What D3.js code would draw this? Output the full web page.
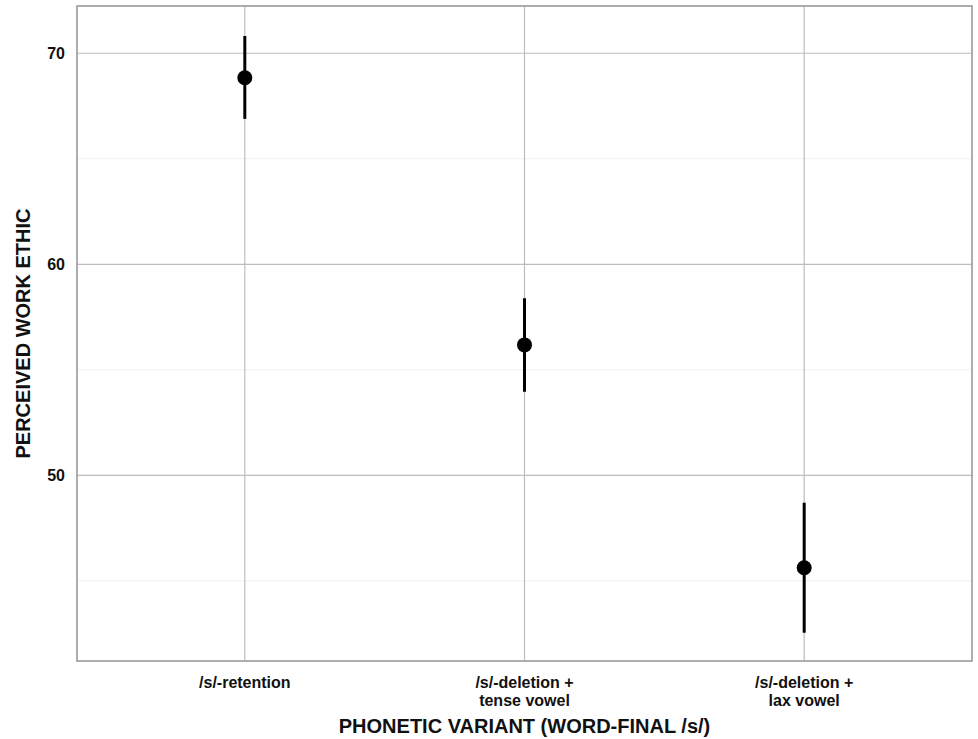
<!DOCTYPE html>
<html>
<head>
<meta charset="utf-8">
<script src="https://cdn.jsdelivr.net/npm/d3@7"></script>
<style>
  html, body { margin: 0; padding: 0; background: #fff; }
  svg { display: block; font-family: "Liberation Sans", Arial, sans-serif; }
</style>
</head>
<body>
<svg id="chart" width="978" height="739"></svg>
<script>
// Phonetic variants of word-final /s/ and their perceived work ethic (mean with interval)
const categories = ["/s/-retention", "/s/-deletion +\ntense vowel", "/s/-deletion +\nlax vowel"];
const means = [68.84, 56.18, 45.62];
const lower = [66.89, 53.96, 42.54];
const upper = [70.82, 58.39, 48.70];
const majorTicks = [50, 60, 70];
const minorTicks = [45, 55, 65];

const data = categories.map((c, i) => ({ cat: c, mean: means[i], lo: lower[i], hi: upper[i] }));

const svg = d3.select("#chart");
const margin = { left: 77, top: 6, right: 6, bottom: 78 };
const W = 978, H = 739;
const x0 = margin.left, x1 = W - margin.right, y0 = margin.top, y1 = H - margin.bottom;

const x = d3.scalePoint().domain(categories).range([x0, x1]).padding(0.6);
const y = d3.scaleLinear().domain([41.2, 72.24]).range([y1, y0]);

// minor horizontal grid
svg.append("g").selectAll("line").data(minorTicks).join("line")
  .attr("x1", x0).attr("x2", x1)
  .attr("y1", d => y(d)).attr("y2", d => y(d))
  .attr("stroke", "#ececec").attr("stroke-width", 0.8);

// major horizontal grid
svg.append("g").selectAll("line").data(majorTicks).join("line")
  .attr("x1", x0).attr("x2", x1)
  .attr("y1", d => y(d)).attr("y2", d => y(d))
  .attr("stroke", "#bdbdbd").attr("stroke-width", 1.2);

// vertical grid at categories
svg.append("g").selectAll("line").data(categories).join("line")
  .attr("x1", d => x(d)).attr("x2", d => x(d))
  .attr("y1", y0).attr("y2", y1)
  .attr("stroke", "#bdbdbd").attr("stroke-width", 1.2);

// panel border
svg.append("rect")
  .attr("x", x0).attr("y", y0).attr("width", x1 - x0).attr("height", y1 - y0)
  .attr("fill", "none").attr("stroke", "#9a9a9a").attr("stroke-width", 1.6);

// y axis labels
const yAxis = d3.axisLeft(y).tickValues(majorTicks).tickSize(0).tickPadding(12);
const gy = svg.append("g").attr("transform", `translate(${x0},0)`).call(yAxis);
gy.select(".domain").remove();
gy.selectAll("text").attr("font-size", 16).attr("font-weight", "bold").attr("fill", "#111")
  .style("font-family", "'Liberation Sans', Arial, sans-serif");

// x axis labels (two-line)
const xAxis = d3.axisBottom(x).tickSize(0).tickFormat("");
const gx = svg.append("g").attr("transform", `translate(0,${y1})`).call(xAxis);
gx.select(".domain").remove();
const xl = svg.append("g").selectAll("text").data(categories).join("text")
  .attr("x", d => x(d)).attr("y", 688)
  .attr("text-anchor", "middle").attr("font-size", 16).attr("font-weight", "bold").attr("fill", "#111");
xl.each(function(d) {
  const lines = d.split("\n");
  d3.select(this).selectAll("tspan").data(lines).join("tspan")
    .attr("x", x(d)).attr("dy", (l, i) => i === 0 ? 0 : 17.5).text(l => l);
});

// axis titles
svg.append("text")
  .attr("x", (x0 + x1) / 2).attr("y", 733)
  .attr("text-anchor", "middle").attr("font-size", 20).attr("font-weight", "bold").attr("fill", "#111")
  .text("PHONETIC VARIANT (WORD-FINAL /s/)");

svg.append("text")
  .attr("transform", `translate(30,${(y0 + y1) / 2}) rotate(-90)`)
  .attr("text-anchor", "middle").attr("font-size", 20).attr("font-weight", "bold").attr("fill", "#111")
  .text("PERCEIVED WORK ETHIC");

// error bars
svg.append("g").selectAll("line").data(data).join("line")
  .attr("x1", d => x(d.cat)).attr("x2", d => x(d.cat))
  .attr("y1", d => y(d.lo)).attr("y2", d => y(d.hi))
  .attr("stroke", "#000").attr("stroke-width", 3);

// points
svg.append("g").selectAll("circle").data(data).join("circle")
  .attr("cx", d => x(d.cat)).attr("cy", d => y(d.mean))
  .attr("r", 7.5).attr("fill", "#000");
</script>
</body>
</html>
